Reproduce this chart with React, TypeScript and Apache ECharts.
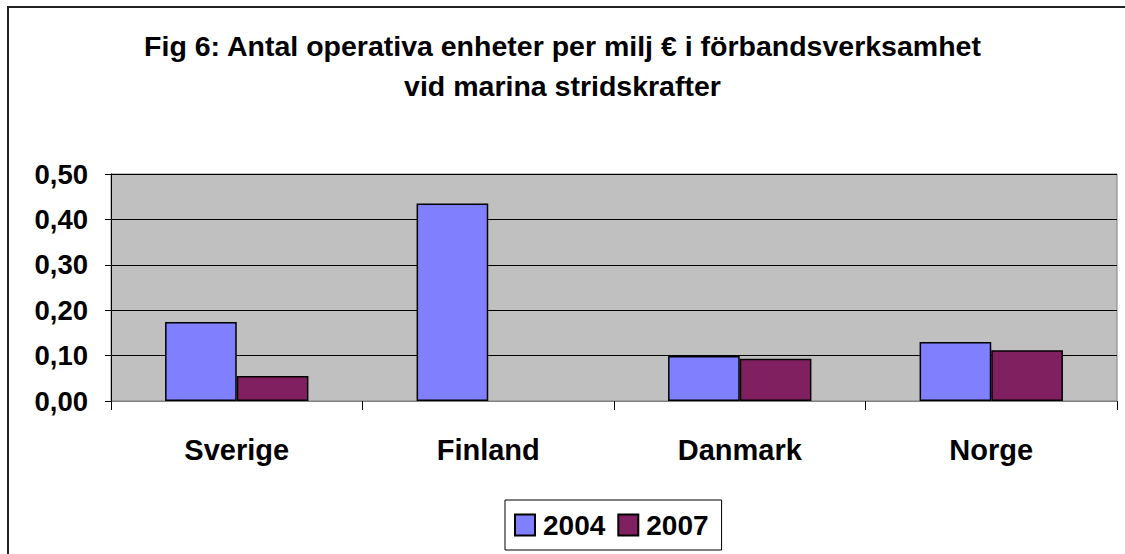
import React, { useEffect, useRef } from "react";
import * as echarts from "echarts";

const categories = ["Sverige", "Finland", "Danmark", "Norge"];
const series2004 = [0.174, 0.435, 0.099, 0.13];
const series2007 = [0.055, null, 0.093, 0.112];
const seriesNames = ["2004", "2007"];
const titleText = "Fig 6: Antal operativa enheter per milj € i förbandsverksamhet\nvid marina stridskrafter";

export default function App() {
  const ref = useRef<HTMLDivElement>(null);
  useEffect(() => {
    document.body.style.margin = "0";
    const chart = echarts.init(ref.current!, null, { renderer: "svg" });
    const font = "'Liberation Sans', Arial, sans-serif";
    chart.setOption({
      animation: false,
      backgroundColor: "#ffffff",
      textStyle: { fontFamily: font },
      title: {
        text: titleText,
        left: "center",
        top: 26,
        padding: 0,
        textStyle: { fontSize: 28.5, fontWeight: "bold", color: "#000", lineHeight: 40, fontFamily: font },
      },
      graphic: [
        {
          type: "rect",
          shape: { x: 8, y: 7, width: 1200, height: 700 },
          style: { fill: "none", stroke: "#222", lineWidth: 2 },
          silent: true,
          z: 100,
        },
      ],
      legend: {
        data: seriesNames,
        left: 505,
        top: 500,
        padding: [11, 13, 11, 9],
        itemGap: 12,
        itemWidth: 20,
        itemHeight: 21,
        icon: "rect",
        borderColor: "#000",
        borderWidth: 1,
        textStyle: { fontSize: 28, fontWeight: "bold", color: "#000", fontFamily: font, padding: [0, 0, 0, 3] },
      },
      grid: { left: 111, right: 8, top: 174, bottom: 153, show: true, backgroundColor: "#C0C0C0", borderColor: "#808080", borderWidth: 1 },
      xAxis: {
        type: "category",
        data: categories,
        axisLine: { lineStyle: { color: "#808080", width: 1 } },
        axisTick: { show: true, alignWithLabel: false, length: 9, lineStyle: { color: "#000" } },
        axisLabel: { fontSize: 29, fontWeight: "bold", color: "#000", margin: 34, fontFamily: font },
      },
      yAxis: {
        type: "value",
        min: 0,
        max: 0.5,
        interval: 0.1,
        axisLine: { show: true, lineStyle: { color: "#000", width: 1 } },
        axisTick: { show: true, length: 6, lineStyle: { color: "#000" } },
        splitLine: { show: true, lineStyle: { color: "#000", width: 1 } },
        axisLabel: {
          fontSize: 27.5,
          fontWeight: "bold",
          color: "#000",
          margin: 23,
          fontFamily: font,
          formatter: (v: number) => v.toFixed(2).replace(".", ","),
        },
      },
      series: [
        {
          name: seriesNames[0],
          type: "bar",
          data: series2004,
          barGap: "0%",
          barCategoryGap: "43%",
          itemStyle: { color: "#8080FF", borderColor: "#000", borderWidth: 1.5 },
        },
        {
          name: seriesNames[1],
          type: "bar",
          data: series2007,
          itemStyle: { color: "#802060", borderColor: "#000", borderWidth: 1.5 },
        },
      ],
    });
    return () => chart.dispose();
  }, []);
  return <div ref={ref} style={{ width: 1125, height: 554 }} />;
}
